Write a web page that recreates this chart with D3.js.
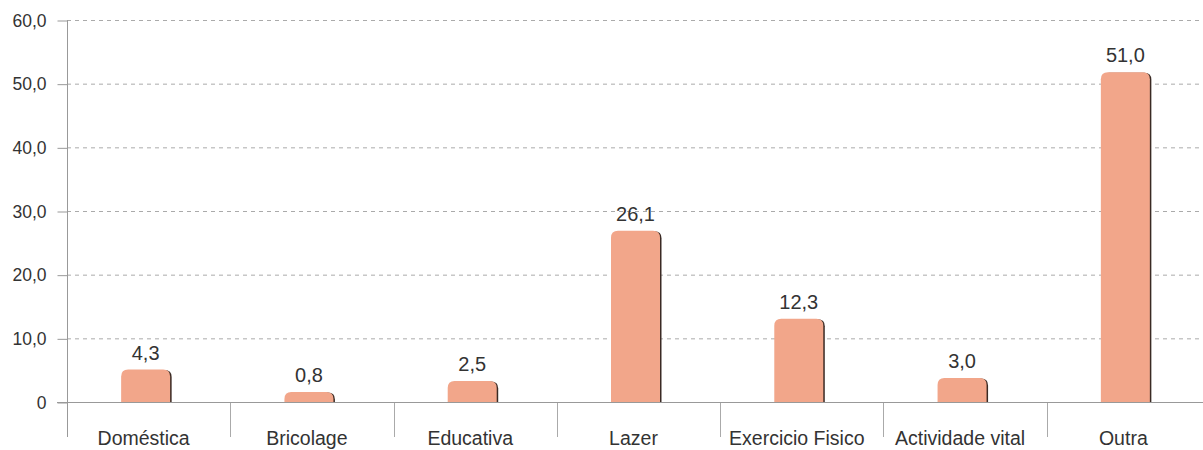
<!DOCTYPE html>
<html><head><meta charset="utf-8">
<script src="https://cdn.jsdelivr.net/npm/d3@7/dist/d3.min.js"></script>
<style>
body{margin:0;background:#fff;}
svg{display:block;font-family:"Liberation Sans","Noto Sans",sans-serif;}
</style></head>
<body>
<svg id="c" width="1203" height="450"></svg>
<script>
const categories = ["Doméstica","Bricolage","Educativa","Lazer","Exercicio Fisico","Actividade vital","Outra"];
const values = [4.3, 0.8, 2.5, 26.1, 12.3, 3.0, 51.0];
const valueLabels = ["4,3","0,8","2,5","26,1","12,3","3,0","51,0"];
const yTicks = [0,10,20,30,40,50,60];
const yTickLabels = ["0","10,0","20,0","30,0","40,0","50,0","60,0"];

const svg = d3.select("#c");
const x0 = 67, x1 = 1210, yTop = 20, yBase = 402;
const x = d3.scaleBand().domain(categories).range([x0, x1]);
const y = d3.scaleLinear().domain([0, 60]).range([yBase, yTop]);
const cap = 5;

// gridlines
svg.append("g").selectAll("line").data(yTicks.filter(t => t > 0)).join("line")
  .attr("x1", x0).attr("x2", 1203)
  .attr("y1", d => y(d) + 0.5).attr("y2", d => y(d) + 0.5)
  .attr("stroke", "#aaa").attr("stroke-width", 1).attr("stroke-dasharray", "4,4");

// y axis
const yAxis = d3.axisLeft(y).tickValues(yTicks).tickSize(10)
  .tickFormat((d, i) => yTickLabels[i]).tickPadding(11);
const ga = svg.append("g").attr("transform", `translate(${x0 + 0.5},0.5)`).call(yAxis);
ga.select(".domain").remove();
ga.selectAll(".tick line").attr("stroke", "#999");
ga.selectAll(".tick text").attr("font-size", 17.5).attr("fill", "#333").attr("font-family", "Liberation Sans");
svg.append("line").attr("x1", x0 + 0.5).attr("x2", x0 + 0.5).attr("y1", yTop).attr("y2", 437)
  .attr("stroke", "#999");

// separators
svg.append("g").selectAll("line").data(categories.slice(1)).join("line")
  .attr("x1", d => Math.round(x(d)) + 0.5).attr("x2", d => Math.round(x(d)) + 0.5)
  .attr("y1", yBase).attr("y2", 437).attr("stroke", "#aaa");

const bw = 49;
function barPath(xl, yt, w, h, r) {
  return `M${xl},${yt + h}V${yt + r}Q${xl},${yt} ${xl + r},${yt}H${xl + w - r}Q${xl + w},${yt} ${xl + w},${yt + r}V${yt + h}Z`;
}
const bars = svg.append("g");
categories.forEach((c, i) => {
  const cx = x(c) + x.bandwidth() / 2 - 3;
  const top = y(values[i]) - cap;
  const h = yBase - top;
  bars.append("path").attr("d", barPath(cx - bw / 2 + 1.5, top + 0.5, bw, h - 0.5, 7))
    .attr("fill", "#3a2a24");
  bars.append("path").attr("d", barPath(cx - bw / 2, top, bw, h, 7))
    .attr("fill", "#f2a68a");
  svg.append("text").attr("x", cx).attr("y", top - 10).attr("text-anchor", "middle")
    .attr("font-size", 20).attr("fill", "#333").text(valueLabels[i]);
});

// baseline
svg.append("line").attr("x1", 57).attr("x2", 1203).attr("y1", yBase + 0.5).attr("y2", yBase + 0.5)
  .attr("stroke", "#999");

// category labels
svg.append("g").selectAll("text").data(categories).join("text")
  .attr("x", d => x(d) + x.bandwidth() / 2 - 5).attr("y", 445).attr("text-anchor", "middle")
  .attr("font-size", 19.5).attr("fill", "#333").text(d => d);
</script>
</body></html>
